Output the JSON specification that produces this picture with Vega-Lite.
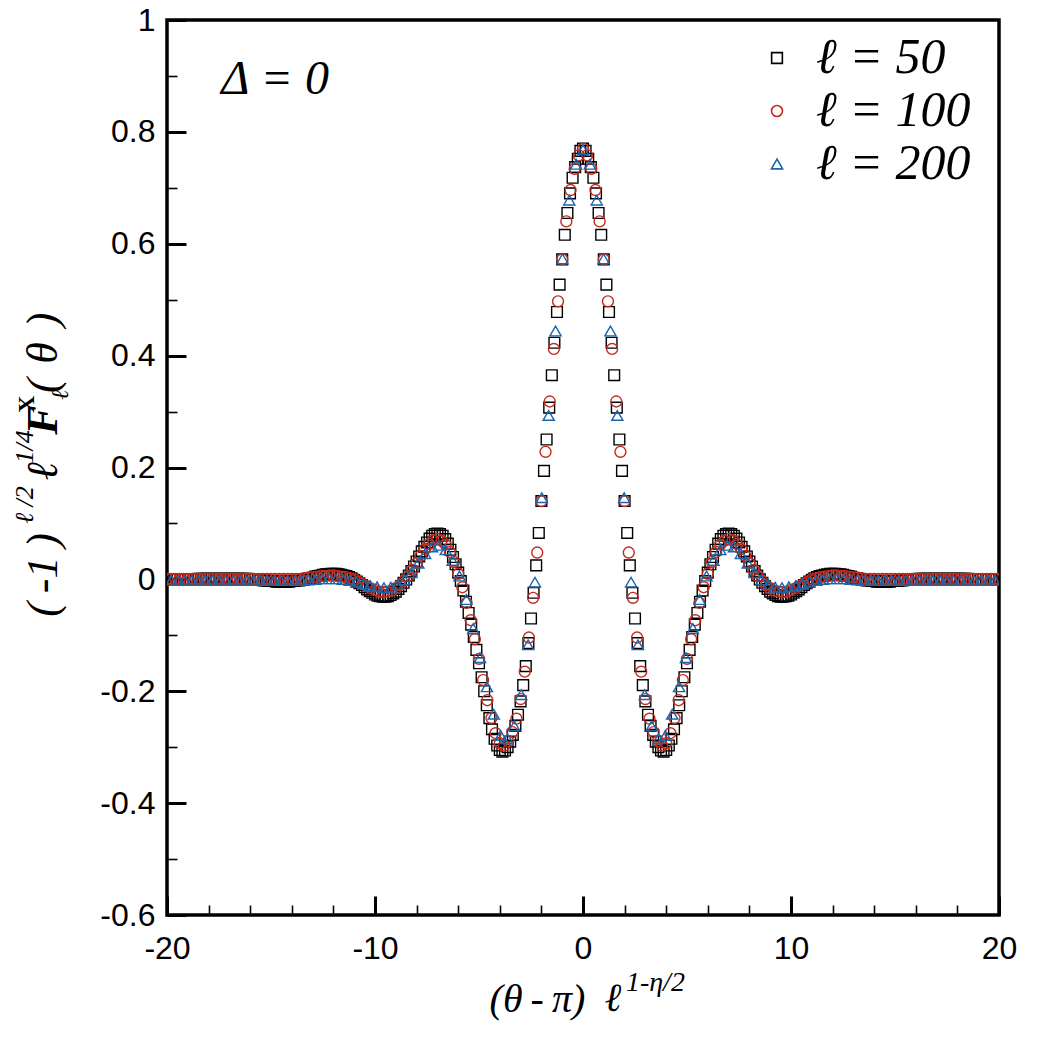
{
  "$schema": "https://vega.github.io/schema/vega-lite/v6.json",
  "width": 832,
  "height": 895,
  "autosize": {"type": "none"},
  "padding": {"left": 167, "top": 20, "right": 43, "bottom": 127},
  "background": "white",
  "config": {
    "view": {"stroke": "black", "strokeWidth": 3.5},
    "axis": {"domain": false, "grid": false, "labelColor": "black", "tickColor": "black", "labelFont": "Liberation Sans", "labelFontSize": 32, "labelOverlap": false, "labelFlush": false}
  },
  "data": {"values": [
{"l":"50","x":-20,"y":0},{"l":"50","x":-19.875,"y":0},{"l":"50","x":-19.75,"y":0},{"l":"50","x":-19.625,"y":0},{"l":"50","x":-19.5,"y":0},{"l":"50","x":-19.375,"y":0},{"l":"50","x":-19.25,"y":0},{"l":"50","x":-19.125,"y":0},{"l":"50","x":-19,"y":0},{"l":"50","x":-18.875,"y":0},{"l":"50","x":-18.75,"y":0},{"l":"50","x":-18.625,"y":0},
{"l":"50","x":-18.5,"y":0.001},{"l":"50","x":-18.375,"y":0.001},{"l":"50","x":-18.25,"y":0.001},{"l":"50","x":-18.125,"y":0.001},{"l":"50","x":-18,"y":0.001},{"l":"50","x":-17.875,"y":0.001},{"l":"50","x":-17.75,"y":0.001},{"l":"50","x":-17.625,"y":0.001},{"l":"50","x":-17.5,"y":0.001},{"l":"50","x":-17.375,"y":0.001},{"l":"50","x":-17.25,"y":0.001},{"l":"50","x":-17.125,"y":0.001},{"l":"50","x":-17,"y":0.001},{"l":"50","x":-16.875,"y":0.001},{"l":"50","x":-16.75,"y":0.001},{"l":"50","x":-16.625,"y":0.001},{"l":"50","x":-16.5,"y":0.001},{"l":"50","x":-16.375,"y":0.001},{"l":"50","x":-16.25,"y":0.001},{"l":"50","x":-16.125,"y":0.001},
{"l":"50","x":-16,"y":0},{"l":"50","x":-15.875,"y":0},{"l":"50","x":-15.75,"y":0},{"l":"50","x":-15.625,"y":-0.001},{"l":"50","x":-15.5,"y":-0.001},{"l":"50","x":-15.375,"y":-0.002},{"l":"50","x":-15.25,"y":-0.002},{"l":"50","x":-15.125,"y":-0.003},{"l":"50","x":-15,"y":-0.003},{"l":"50","x":-14.875,"y":-0.003},{"l":"50","x":-14.75,"y":-0.004},{"l":"50","x":-14.625,"y":-0.004},{"l":"50","x":-14.5,"y":-0.004},{"l":"50","x":-14.375,"y":-0.004},{"l":"50","x":-14.25,"y":-0.004},{"l":"50","x":-14.125,"y":-0.004},{"l":"50","x":-14,"y":-0.003},{"l":"50","x":-13.875,"y":-0.003},{"l":"50","x":-13.75,"y":-0.002},{"l":"50","x":-13.625,"y":-0.002},{"l":"50","x":-13.5,"y":-0.001},{"l":"50","x":-13.375,"y":0},{"l":"50","x":-13.25,"y":0.001},{"l":"50","x":-13.125,"y":0.002},{"l":"50","x":-13,"y":0.003},{"l":"50","x":-12.875,"y":0.005},{"l":"50","x":-12.75,"y":0.006},{"l":"50","x":-12.625,"y":0.007},{"l":"50","x":-12.5,"y":0.008},{"l":"50","x":-12.375,"y":0.009},{"l":"50","x":-12.25,"y":0.009},{"l":"50","x":-12.125,"y":0.01},{"l":"50","x":-12,"y":0.01},{"l":"50","x":-11.875,"y":0.01},{"l":"50","x":-11.75,"y":0.009},{"l":"50","x":-11.625,"y":0.008},{"l":"50","x":-11.5,"y":0.007},{"l":"50","x":-11.375,"y":0.006},{"l":"50","x":-11.25,"y":0.004},{"l":"50","x":-11.125,"y":0.002},{"l":"50","x":-11,"y":-0.001},{"l":"50","x":-10.875,"y":-0.004},{"l":"50","x":-10.75,"y":-0.007},{"l":"50","x":-10.625,"y":-0.01},{"l":"50","x":-10.5,"y":-0.014},{"l":"50","x":-10.375,"y":-0.018},{"l":"50","x":-10.25,"y":-0.021},{"l":"50","x":-10.125,"y":-0.024},{"l":"50","x":-10,"y":-0.027},{"l":"50","x":-9.875,"y":-0.029},{"l":"50","x":-9.75,"y":-0.03},{"l":"50","x":-9.625,"y":-0.031},{"l":"50","x":-9.5,"y":-0.031},{"l":"50","x":-9.375,"y":-0.03},{"l":"50","x":-9.25,"y":-0.028},{"l":"50","x":-9.125,"y":-0.025},{"l":"50","x":-9,"y":-0.022},{"l":"50","x":-8.875,"y":-0.017},{"l":"50","x":-8.75,"y":-0.012},{"l":"50","x":-8.625,"y":-0.006},{"l":"50","x":-8.5,"y":0},{"l":"50","x":-8.375,"y":0.007},{"l":"50","x":-8.25,"y":0.015},{"l":"50","x":-8.125,"y":0.023},{"l":"50","x":-8,"y":0.032},{"l":"50","x":-7.875,"y":0.041},{"l":"50","x":-7.75,"y":0.05},{"l":"50","x":-7.625,"y":0.058},{"l":"50","x":-7.5,"y":0.066},{"l":"50","x":-7.375,"y":0.073},{"l":"50","x":-7.25,"y":0.078},{"l":"50","x":-7.125,"y":0.081},{"l":"50","x":-7,"y":0.082},{"l":"50","x":-6.875,"y":0.081},{"l":"50","x":-6.75,"y":0.078},{"l":"50","x":-6.625,"y":0.072},{"l":"50","x":-6.5,"y":0.064},{"l":"50","x":-6.375,"y":0.053},{"l":"50","x":-6.25,"y":0.04},{"l":"50","x":-6.125,"y":0.027},{"l":"50","x":-6,"y":0.012},{"l":"50","x":-5.875,"y":-0.003},{"l":"50","x":-5.75,"y":-0.02},{"l":"50","x":-5.625,"y":-0.04},{"l":"50","x":-5.5,"y":-0.06},{"l":"50","x":-5.375,"y":-0.081},{"l":"50","x":-5.25,"y":-0.103},{"l":"50","x":-5.125,"y":-0.126},{"l":"50","x":-5,"y":-0.15},{"l":"50","x":-4.875,"y":-0.175},{"l":"50","x":-4.75,"y":-0.2},{"l":"50","x":-4.625,"y":-0.225},{"l":"50","x":-4.5,"y":-0.248},{"l":"50","x":-4.375,"y":-0.268},{"l":"50","x":-4.25,"y":-0.285},{"l":"50","x":-4.125,"y":-0.297},{"l":"50","x":-4,"y":-0.305},{"l":"50","x":-3.875,"y":-0.308},{"l":"50","x":-3.75,"y":-0.306},{"l":"50","x":-3.625,"y":-0.3},{"l":"50","x":-3.5,"y":-0.29},{"l":"50","x":-3.375,"y":-0.278},{"l":"50","x":-3.25,"y":-0.262},{"l":"50","x":-3.125,"y":-0.242},{"l":"50","x":-3,"y":-0.218},{"l":"50","x":-2.875,"y":-0.189},{"l":"50","x":-2.75,"y":-0.155},{"l":"50","x":-2.625,"y":-0.114},{"l":"50","x":-2.5,"y":-0.07},{"l":"50","x":-2.375,"y":-0.024},{"l":"50","x":-2.25,"y":0.025},{"l":"50","x":-2.125,"y":0.083},{"l":"50","x":-2,"y":0.14},{"l":"50","x":-1.875,"y":0.194},{"l":"50","x":-1.75,"y":0.25},{"l":"50","x":-1.625,"y":0.307},{"l":"50","x":-1.5,"y":0.365},{"l":"50","x":-1.375,"y":0.423},{"l":"50","x":-1.25,"y":0.478},{"l":"50","x":-1.125,"y":0.527},{"l":"50","x":-1,"y":0.572},{"l":"50","x":-0.875,"y":0.616},{"l":"50","x":-0.75,"y":0.655},{"l":"50","x":-0.625,"y":0.69},{"l":"50","x":-0.5,"y":0.718},{"l":"50","x":-0.375,"y":0.737},{"l":"50","x":-0.25,"y":0.752},{"l":"50","x":-0.125,"y":0.766},
{"l":"50","x":0,"y":0.77},
{"l":"50","x":0.125,"y":0.766},{"l":"50","x":0.25,"y":0.752},{"l":"50","x":0.375,"y":0.737},{"l":"50","x":0.5,"y":0.718},{"l":"50","x":0.625,"y":0.69},{"l":"50","x":0.75,"y":0.655},{"l":"50","x":0.875,"y":0.616},{"l":"50","x":1,"y":0.572},{"l":"50","x":1.125,"y":0.527},{"l":"50","x":1.25,"y":0.478},{"l":"50","x":1.375,"y":0.423},{"l":"50","x":1.5,"y":0.365},{"l":"50","x":1.625,"y":0.307},{"l":"50","x":1.75,"y":0.25},{"l":"50","x":1.875,"y":0.194},{"l":"50","x":2,"y":0.14},{"l":"50","x":2.125,"y":0.083},{"l":"50","x":2.25,"y":0.025},{"l":"50","x":2.375,"y":-0.024},{"l":"50","x":2.5,"y":-0.07},{"l":"50","x":2.625,"y":-0.114},{"l":"50","x":2.75,"y":-0.155},{"l":"50","x":2.875,"y":-0.189},{"l":"50","x":3,"y":-0.218},{"l":"50","x":3.125,"y":-0.242},{"l":"50","x":3.25,"y":-0.262},{"l":"50","x":3.375,"y":-0.278},{"l":"50","x":3.5,"y":-0.29},{"l":"50","x":3.625,"y":-0.3},{"l":"50","x":3.75,"y":-0.306},{"l":"50","x":3.875,"y":-0.308},{"l":"50","x":4,"y":-0.305},{"l":"50","x":4.125,"y":-0.297},{"l":"50","x":4.25,"y":-0.285},{"l":"50","x":4.375,"y":-0.268},{"l":"50","x":4.5,"y":-0.248},{"l":"50","x":4.625,"y":-0.225},{"l":"50","x":4.75,"y":-0.2},{"l":"50","x":4.875,"y":-0.175},{"l":"50","x":5,"y":-0.15},{"l":"50","x":5.125,"y":-0.126},{"l":"50","x":5.25,"y":-0.103},{"l":"50","x":5.375,"y":-0.081},{"l":"50","x":5.5,"y":-0.06},{"l":"50","x":5.625,"y":-0.04},{"l":"50","x":5.75,"y":-0.02},{"l":"50","x":5.875,"y":-0.003},{"l":"50","x":6,"y":0.012},{"l":"50","x":6.125,"y":0.027},{"l":"50","x":6.25,"y":0.04},{"l":"50","x":6.375,"y":0.053},{"l":"50","x":6.5,"y":0.064},{"l":"50","x":6.625,"y":0.072},{"l":"50","x":6.75,"y":0.078},{"l":"50","x":6.875,"y":0.081},{"l":"50","x":7,"y":0.082},{"l":"50","x":7.125,"y":0.081},{"l":"50","x":7.25,"y":0.078},{"l":"50","x":7.375,"y":0.073},{"l":"50","x":7.5,"y":0.066},{"l":"50","x":7.625,"y":0.058},{"l":"50","x":7.75,"y":0.05},{"l":"50","x":7.875,"y":0.041},{"l":"50","x":8,"y":0.032},{"l":"50","x":8.125,"y":0.023},{"l":"50","x":8.25,"y":0.015},{"l":"50","x":8.375,"y":0.007},{"l":"50","x":8.5,"y":0},{"l":"50","x":8.625,"y":-0.006},{"l":"50","x":8.75,"y":-0.012},{"l":"50","x":8.875,"y":-0.017},{"l":"50","x":9,"y":-0.022},{"l":"50","x":9.125,"y":-0.025},{"l":"50","x":9.25,"y":-0.028},{"l":"50","x":9.375,"y":-0.03},{"l":"50","x":9.5,"y":-0.031},{"l":"50","x":9.625,"y":-0.031},{"l":"50","x":9.75,"y":-0.03},{"l":"50","x":9.875,"y":-0.029},{"l":"50","x":10,"y":-0.027},{"l":"50","x":10.125,"y":-0.024},{"l":"50","x":10.25,"y":-0.021},{"l":"50","x":10.375,"y":-0.018},{"l":"50","x":10.5,"y":-0.014},{"l":"50","x":10.625,"y":-0.01},{"l":"50","x":10.75,"y":-0.007},{"l":"50","x":10.875,"y":-0.004},{"l":"50","x":11,"y":-0.001},{"l":"50","x":11.125,"y":0.002},{"l":"50","x":11.25,"y":0.004},{"l":"50","x":11.375,"y":0.006},{"l":"50","x":11.5,"y":0.007},{"l":"50","x":11.625,"y":0.008},{"l":"50","x":11.75,"y":0.009},{"l":"50","x":11.875,"y":0.01},{"l":"50","x":12,"y":0.01},{"l":"50","x":12.125,"y":0.01},{"l":"50","x":12.25,"y":0.009},{"l":"50","x":12.375,"y":0.009},{"l":"50","x":12.5,"y":0.008},{"l":"50","x":12.625,"y":0.007},{"l":"50","x":12.75,"y":0.006},{"l":"50","x":12.875,"y":0.005},{"l":"50","x":13,"y":0.003},{"l":"50","x":13.125,"y":0.002},{"l":"50","x":13.25,"y":0.001},{"l":"50","x":13.375,"y":0},{"l":"50","x":13.5,"y":-0.001},{"l":"50","x":13.625,"y":-0.002},{"l":"50","x":13.75,"y":-0.002},{"l":"50","x":13.875,"y":-0.003},{"l":"50","x":14,"y":-0.003},{"l":"50","x":14.125,"y":-0.004},{"l":"50","x":14.25,"y":-0.004},{"l":"50","x":14.375,"y":-0.004},{"l":"50","x":14.5,"y":-0.004},{"l":"50","x":14.625,"y":-0.004},{"l":"50","x":14.75,"y":-0.004},{"l":"50","x":14.875,"y":-0.003},{"l":"50","x":15,"y":-0.003},{"l":"50","x":15.125,"y":-0.003},{"l":"50","x":15.25,"y":-0.002},{"l":"50","x":15.375,"y":-0.002},{"l":"50","x":15.5,"y":-0.001},{"l":"50","x":15.625,"y":-0.001},{"l":"50","x":15.75,"y":0},{"l":"50","x":15.875,"y":0},{"l":"50","x":16,"y":0},
{"l":"50","x":16.125,"y":0.001},{"l":"50","x":16.25,"y":0.001},{"l":"50","x":16.375,"y":0.001},{"l":"50","x":16.5,"y":0.001},{"l":"50","x":16.625,"y":0.001},{"l":"50","x":16.75,"y":0.001},{"l":"50","x":16.875,"y":0.001},{"l":"50","x":17,"y":0.001},{"l":"50","x":17.125,"y":0.001},{"l":"50","x":17.25,"y":0.001},{"l":"50","x":17.375,"y":0.001},{"l":"50","x":17.5,"y":0.001},{"l":"50","x":17.625,"y":0.001},{"l":"50","x":17.75,"y":0.001},{"l":"50","x":17.875,"y":0.001},{"l":"50","x":18,"y":0.001},{"l":"50","x":18.125,"y":0.001},{"l":"50","x":18.25,"y":0.001},{"l":"50","x":18.375,"y":0.001},{"l":"50","x":18.5,"y":0.001},
{"l":"50","x":18.625,"y":0},{"l":"50","x":18.75,"y":0},{"l":"50","x":18.875,"y":0},{"l":"50","x":19,"y":0},{"l":"50","x":19.125,"y":0},{"l":"50","x":19.25,"y":0},{"l":"50","x":19.375,"y":0},{"l":"50","x":19.5,"y":0},{"l":"50","x":19.625,"y":0},{"l":"50","x":19.75,"y":0},{"l":"50","x":19.875,"y":0},{"l":"50","x":20,"y":0},

{"l":"100","x":-20,"y":0.001},{"l":"100","x":-19.8,"y":0.001},{"l":"100","x":-19.6,"y":0.001},{"l":"100","x":-19.4,"y":0.001},{"l":"100","x":-19.2,"y":0.001},{"l":"100","x":-19,"y":0.001},{"l":"100","x":-18.8,"y":0.001},{"l":"100","x":-18.6,"y":0.001},{"l":"100","x":-18.4,"y":0.001},{"l":"100","x":-18.2,"y":0.001},{"l":"100","x":-18,"y":0.001},{"l":"100","x":-17.8,"y":0.001},{"l":"100","x":-17.6,"y":0.001},{"l":"100","x":-17.4,"y":0.001},{"l":"100","x":-17.2,"y":0.001},{"l":"100","x":-17,"y":0.001},{"l":"100","x":-16.8,"y":0.001},{"l":"100","x":-16.6,"y":0.001},{"l":"100","x":-16.4,"y":0.001},{"l":"100","x":-16.2,"y":0.001},{"l":"100","x":-16,"y":0.001},{"l":"100","x":-15.8,"y":0.001},{"l":"100","x":-15.6,"y":0.001},{"l":"100","x":-15.4,"y":0.001},{"l":"100","x":-15.2,"y":0.001},{"l":"100","x":-15,"y":0.001},{"l":"100","x":-14.8,"y":0.001},{"l":"100","x":-14.6,"y":0.001},{"l":"100","x":-14.4,"y":0.001},{"l":"100","x":-14.2,"y":0.001},{"l":"100","x":-14,"y":0.001},
{"l":"100","x":-13.8,"y":0.001},{"l":"100","x":-13.6,"y":0.001},{"l":"100","x":-13.4,"y":0.002},{"l":"100","x":-13.2,"y":0.003},{"l":"100","x":-13,"y":0.004},{"l":"100","x":-12.8,"y":0.005},{"l":"100","x":-12.6,"y":0.006},{"l":"100","x":-12.4,"y":0.006},{"l":"100","x":-12.2,"y":0.007},{"l":"100","x":-12,"y":0.007},{"l":"100","x":-11.8,"y":0.006},{"l":"100","x":-11.6,"y":0.005},{"l":"100","x":-11.4,"y":0.004},{"l":"100","x":-11.2,"y":0.002},{"l":"100","x":-11,"y":0},{"l":"100","x":-10.8,"y":-0.004},{"l":"100","x":-10.6,"y":-0.008},{"l":"100","x":-10.4,"y":-0.012},{"l":"100","x":-10.2,"y":-0.016},{"l":"100","x":-10,"y":-0.019},{"l":"100","x":-9.8,"y":-0.022},{"l":"100","x":-9.6,"y":-0.023},{"l":"100","x":-9.4,"y":-0.022},{"l":"100","x":-9.2,"y":-0.02},{"l":"100","x":-9,"y":-0.016},{"l":"100","x":-8.8,"y":-0.01},{"l":"100","x":-8.6,"y":-0.003},{"l":"100","x":-8.4,"y":0.006},{"l":"100","x":-8.2,"y":0.017},{"l":"100","x":-8,"y":0.029},{"l":"100","x":-7.8,"y":0.042},{"l":"100","x":-7.6,"y":0.054},{"l":"100","x":-7.4,"y":0.063},{"l":"100","x":-7.2,"y":0.07},{"l":"100","x":-7,"y":0.072},{"l":"100","x":-6.8,"y":0.069},{"l":"100","x":-6.6,"y":0.062},{"l":"100","x":-6.4,"y":0.049},{"l":"100","x":-6.2,"y":0.031},{"l":"100","x":-6,"y":0.01},{"l":"100","x":-5.8,"y":-0.014},{"l":"100","x":-5.6,"y":-0.042},{"l":"100","x":-5.4,"y":-0.073},{"l":"100","x":-5.2,"y":-0.107},{"l":"100","x":-5,"y":-0.142},{"l":"100","x":-4.8,"y":-0.18},{"l":"100","x":-4.6,"y":-0.216},{"l":"100","x":-4.4,"y":-0.248},{"l":"100","x":-4.2,"y":-0.275},{"l":"100","x":-4,"y":-0.293},{"l":"100","x":-3.8,"y":-0.297},{"l":"100","x":-3.6,"y":-0.289},{"l":"100","x":-3.4,"y":-0.273},{"l":"100","x":-3.2,"y":-0.249},{"l":"100","x":-3,"y":-0.214},{"l":"100","x":-2.8,"y":-0.165},{"l":"100","x":-2.6,"y":-0.104},{"l":"100","x":-2.4,"y":-0.033},{"l":"100","x":-2.2,"y":0.048},{"l":"100","x":-2,"y":0.14},{"l":"100","x":-1.8,"y":0.228},{"l":"100","x":-1.6,"y":0.318},{"l":"100","x":-1.4,"y":0.412},{"l":"100","x":-1.2,"y":0.497},{"l":"100","x":-1,"y":0.572},{"l":"100","x":-0.8,"y":0.64},{"l":"100","x":-0.6,"y":0.696},{"l":"100","x":-0.4,"y":0.734},{"l":"100","x":-0.2,"y":0.758},
{"l":"100","x":0,"y":0.77},
{"l":"100","x":0.2,"y":0.758},{"l":"100","x":0.4,"y":0.734},{"l":"100","x":0.6,"y":0.696},{"l":"100","x":0.8,"y":0.64},{"l":"100","x":1,"y":0.572},{"l":"100","x":1.2,"y":0.497},{"l":"100","x":1.4,"y":0.412},{"l":"100","x":1.6,"y":0.318},{"l":"100","x":1.8,"y":0.228},{"l":"100","x":2,"y":0.14},{"l":"100","x":2.2,"y":0.048},{"l":"100","x":2.4,"y":-0.033},{"l":"100","x":2.6,"y":-0.104},{"l":"100","x":2.8,"y":-0.165},{"l":"100","x":3,"y":-0.214},{"l":"100","x":3.2,"y":-0.249},{"l":"100","x":3.4,"y":-0.273},{"l":"100","x":3.6,"y":-0.289},{"l":"100","x":3.8,"y":-0.297},{"l":"100","x":4,"y":-0.293},{"l":"100","x":4.2,"y":-0.275},{"l":"100","x":4.4,"y":-0.248},{"l":"100","x":4.6,"y":-0.216},{"l":"100","x":4.8,"y":-0.18},{"l":"100","x":5,"y":-0.142},{"l":"100","x":5.2,"y":-0.107},{"l":"100","x":5.4,"y":-0.073},{"l":"100","x":5.6,"y":-0.042},{"l":"100","x":5.8,"y":-0.014},{"l":"100","x":6,"y":0.01},{"l":"100","x":6.2,"y":0.031},{"l":"100","x":6.4,"y":0.049},{"l":"100","x":6.6,"y":0.062},{"l":"100","x":6.8,"y":0.069},{"l":"100","x":7,"y":0.072},{"l":"100","x":7.2,"y":0.07},{"l":"100","x":7.4,"y":0.063},{"l":"100","x":7.6,"y":0.054},{"l":"100","x":7.8,"y":0.042},{"l":"100","x":8,"y":0.029},{"l":"100","x":8.2,"y":0.017},{"l":"100","x":8.4,"y":0.006},{"l":"100","x":8.6,"y":-0.003},{"l":"100","x":8.8,"y":-0.01},{"l":"100","x":9,"y":-0.016},{"l":"100","x":9.2,"y":-0.02},{"l":"100","x":9.4,"y":-0.022},{"l":"100","x":9.6,"y":-0.023},{"l":"100","x":9.8,"y":-0.022},{"l":"100","x":10,"y":-0.019},{"l":"100","x":10.2,"y":-0.016},{"l":"100","x":10.4,"y":-0.012},{"l":"100","x":10.6,"y":-0.008},{"l":"100","x":10.8,"y":-0.004},{"l":"100","x":11,"y":0},{"l":"100","x":11.2,"y":0.002},{"l":"100","x":11.4,"y":0.004},{"l":"100","x":11.6,"y":0.005},{"l":"100","x":11.8,"y":0.006},{"l":"100","x":12,"y":0.007},{"l":"100","x":12.2,"y":0.007},{"l":"100","x":12.4,"y":0.006},{"l":"100","x":12.6,"y":0.006},{"l":"100","x":12.8,"y":0.005},{"l":"100","x":13,"y":0.004},{"l":"100","x":13.2,"y":0.003},{"l":"100","x":13.4,"y":0.002},{"l":"100","x":13.6,"y":0.001},{"l":"100","x":13.8,"y":0.001},
{"l":"100","x":14,"y":0.001},{"l":"100","x":14.2,"y":0.001},{"l":"100","x":14.4,"y":0.001},{"l":"100","x":14.6,"y":0.001},{"l":"100","x":14.8,"y":0.001},{"l":"100","x":15,"y":0.001},{"l":"100","x":15.2,"y":0.001},{"l":"100","x":15.4,"y":0.001},{"l":"100","x":15.6,"y":0.001},{"l":"100","x":15.8,"y":0.001},{"l":"100","x":16,"y":0.001},{"l":"100","x":16.2,"y":0.001},{"l":"100","x":16.4,"y":0.001},{"l":"100","x":16.6,"y":0.001},{"l":"100","x":16.8,"y":0.001},{"l":"100","x":17,"y":0.001},{"l":"100","x":17.2,"y":0.001},{"l":"100","x":17.4,"y":0.001},{"l":"100","x":17.6,"y":0.001},{"l":"100","x":17.8,"y":0.001},{"l":"100","x":18,"y":0.001},{"l":"100","x":18.2,"y":0.001},{"l":"100","x":18.4,"y":0.001},{"l":"100","x":18.6,"y":0.001},{"l":"100","x":18.8,"y":0.001},{"l":"100","x":19,"y":0.001},{"l":"100","x":19.2,"y":0.001},{"l":"100","x":19.4,"y":0.001},{"l":"100","x":19.6,"y":0.001},{"l":"100","x":19.8,"y":0.001},{"l":"100","x":20,"y":0.001},

{"l":"200","x":-19.8,"y":-0.002},{"l":"200","x":-19.47,"y":-0.002},{"l":"200","x":-19.14,"y":-0.002},{"l":"200","x":-18.81,"y":-0.002},{"l":"200","x":-18.48,"y":-0.002},{"l":"200","x":-18.15,"y":-0.002},{"l":"200","x":-17.82,"y":-0.002},{"l":"200","x":-17.49,"y":-0.002},{"l":"200","x":-17.16,"y":-0.002},{"l":"200","x":-16.83,"y":-0.002},{"l":"200","x":-16.5,"y":-0.002},{"l":"200","x":-16.17,"y":-0.002},{"l":"200","x":-15.84,"y":-0.002},{"l":"200","x":-15.51,"y":-0.002},{"l":"200","x":-15.18,"y":-0.002},{"l":"200","x":-14.85,"y":-0.002},{"l":"200","x":-14.52,"y":-0.002},{"l":"200","x":-14.19,"y":-0.002},{"l":"200","x":-13.86,"y":-0.002},{"l":"200","x":-13.53,"y":-0.002},
{"l":"200","x":-13.2,"y":-0.001},{"l":"200","x":-12.87,"y":0},{"l":"200","x":-12.54,"y":0.001},{"l":"200","x":-12.21,"y":0.001},{"l":"200","x":-11.88,"y":0.001},{"l":"200","x":-11.55,"y":0},{"l":"200","x":-11.22,"y":-0.002},{"l":"200","x":-10.89,"y":-0.005},{"l":"200","x":-10.56,"y":-0.008},{"l":"200","x":-10.23,"y":-0.011},{"l":"200","x":-9.9,"y":-0.013},{"l":"200","x":-9.57,"y":-0.015},{"l":"200","x":-9.24,"y":-0.014},{"l":"200","x":-8.91,"y":-0.009},{"l":"200","x":-8.58,"y":-0.001},{"l":"200","x":-8.25,"y":0.012},{"l":"200","x":-7.92,"y":0.029},{"l":"200","x":-7.59,"y":0.046},{"l":"200","x":-7.26,"y":0.058},{"l":"200","x":-6.93,"y":0.061},{"l":"200","x":-6.6,"y":0.053},{"l":"200","x":-6.27,"y":0.034},{"l":"200","x":-5.94,"y":0.006},{"l":"200","x":-5.61,"y":-0.036},{"l":"200","x":-5.28,"y":-0.088},{"l":"200","x":-4.95,"y":-0.14},{"l":"200","x":-4.62,"y":-0.192},{"l":"200","x":-4.29,"y":-0.241},{"l":"200","x":-3.96,"y":-0.279},{"l":"200","x":-3.63,"y":-0.285},{"l":"200","x":-3.3,"y":-0.262},{"l":"200","x":-2.97,"y":-0.206},{"l":"200","x":-2.64,"y":-0.117},{"l":"200","x":-2.31,"y":-0.005},{"l":"200","x":-1.98,"y":0.146},{"l":"200","x":-1.65,"y":0.293},{"l":"200","x":-1.32,"y":0.444},{"l":"200","x":-0.99,"y":0.573},{"l":"200","x":-0.66,"y":0.678},{"l":"200","x":-0.33,"y":0.742},
{"l":"200","x":0,"y":0.768},
{"l":"200","x":0.33,"y":0.742},{"l":"200","x":0.66,"y":0.678},{"l":"200","x":0.99,"y":0.573},{"l":"200","x":1.32,"y":0.444},{"l":"200","x":1.65,"y":0.293},{"l":"200","x":1.98,"y":0.146},{"l":"200","x":2.31,"y":-0.005},{"l":"200","x":2.64,"y":-0.117},{"l":"200","x":2.97,"y":-0.206},{"l":"200","x":3.3,"y":-0.262},{"l":"200","x":3.63,"y":-0.285},{"l":"200","x":3.96,"y":-0.279},{"l":"200","x":4.29,"y":-0.241},{"l":"200","x":4.62,"y":-0.192},{"l":"200","x":4.95,"y":-0.14},{"l":"200","x":5.28,"y":-0.088},{"l":"200","x":5.61,"y":-0.036},{"l":"200","x":5.94,"y":0.006},{"l":"200","x":6.27,"y":0.034},{"l":"200","x":6.6,"y":0.053},{"l":"200","x":6.93,"y":0.061},{"l":"200","x":7.26,"y":0.058},{"l":"200","x":7.59,"y":0.046},{"l":"200","x":7.92,"y":0.029},{"l":"200","x":8.25,"y":0.012},{"l":"200","x":8.58,"y":-0.001},{"l":"200","x":8.91,"y":-0.009},{"l":"200","x":9.24,"y":-0.014},{"l":"200","x":9.57,"y":-0.015},{"l":"200","x":9.9,"y":-0.013},{"l":"200","x":10.23,"y":-0.011},{"l":"200","x":10.56,"y":-0.008},{"l":"200","x":10.89,"y":-0.005},{"l":"200","x":11.22,"y":-0.002},{"l":"200","x":11.55,"y":0},{"l":"200","x":11.88,"y":0.001},{"l":"200","x":12.21,"y":0.001},{"l":"200","x":12.54,"y":0.001},{"l":"200","x":12.87,"y":0},{"l":"200","x":13.2,"y":-0.001},
{"l":"200","x":13.53,"y":-0.002},{"l":"200","x":13.86,"y":-0.002},{"l":"200","x":14.19,"y":-0.002},{"l":"200","x":14.52,"y":-0.002},{"l":"200","x":14.85,"y":-0.002},{"l":"200","x":15.18,"y":-0.002},{"l":"200","x":15.51,"y":-0.002},{"l":"200","x":15.84,"y":-0.002},{"l":"200","x":16.17,"y":-0.002},{"l":"200","x":16.5,"y":-0.002},{"l":"200","x":16.83,"y":-0.002},{"l":"200","x":17.16,"y":-0.002},{"l":"200","x":17.49,"y":-0.002},{"l":"200","x":17.82,"y":-0.002},{"l":"200","x":18.15,"y":-0.002},{"l":"200","x":18.48,"y":-0.002},{"l":"200","x":18.81,"y":-0.002},{"l":"200","x":19.14,"y":-0.002},{"l":"200","x":19.47,"y":-0.002},{"l":"200","x":19.8,"y":-0.002}
  ]},
  "layer": [
    {
      "mark": {"type": "point", "filled": false, "strokeWidth": 1.4, "opacity": 1, "clip": true},
      "encoding": {
        "x": {
          "field": "x", "type": "quantitative",
          "scale": {"domain": [-20, 20], "nice": false, "zero": false},
          "axis": {
            "title": null,
            "values": [-20,-18,-16,-14,-12,-10,-8,-6,-4,-2,0,2,4,6,8,10,12,14,16,18,20],
            "labelExpr": "datum.value % 10 === 0 ? '' + datum.value : ''",
            "labelPadding": 37,
            "tickSize": {"condition": {"test": "datum.value % 10 === 0", "value": -19}, "value": -10},
            "tickWidth": {"condition": {"test": "datum.value % 10 === 0", "value": 3}, "value": 1.6}
          }
        },
        "y": {
          "field": "y", "type": "quantitative",
          "scale": {"domain": [-0.6, 1], "nice": false, "zero": false},
          "axis": {
            "title": null,
            "values": [-0.6,-0.55,-0.5,-0.45,-0.4,-0.35,-0.3,-0.25,-0.2,-0.15,-0.1,-0.05,0,0.05,0.1,0.15,0.2,0.25,0.3,0.35,0.4,0.45,0.5,0.55,0.6,0.65,0.7,0.75,0.8,0.85,0.9,0.95,1],
            "labelExpr": "abs(datum.value*5 - round(datum.value*5)) < 0.001 ? '' + round(datum.value*10)/10 : ''",
            "labelPadding": 31,
            "tickSize": {"condition": {"test": "abs(datum.value*5 - round(datum.value*5)) < 0.001", "value": -19}, "value": -10},
            "tickWidth": {"condition": {"test": "abs(datum.value*5 - round(datum.value*5)) < 0.001", "value": 3}, "value": 1.6}
          }
        },
        "size": {
          "field": "l", "type": "ordinal",
          "scale": {"domain": ["50", "100", "200"], "range": [115, 125, 150]},
          "legend": null
        },
        "color": {
          "field": "l", "type": "nominal",
          "scale": {"domain": ["50", "100", "200"], "range": ["#000000", "#c42a1e", "#1b65ad"]},
          "legend": {"orient": "none", "legendX": 585, "legendY": 13, "title": null, "padding": 0, "labelFont": "Liberation Serif", "labelFontStyle": "italic", "labelFontSize": 50, "labelColor": "black", "labelExpr": "'ℓ = ' + datum.label", "symbolSize": 70, "symbolStrokeWidth": 1.6, "symbolFillColor": "white", "rowPadding": 3, "labelOffset": 14}
        },
        "shape": {
          "field": "l", "type": "nominal",
          "scale": {"domain": ["50", "100", "200"], "range": ["square", "circle", "triangle-up"]},
          "legend": {"orient": "none", "legendX": 585, "legendY": 13, "title": null, "padding": 0, "labelFont": "Liberation Serif", "labelFontStyle": "italic", "labelFontSize": 50, "labelColor": "black", "labelExpr": "'ℓ = ' + datum.label", "symbolSize": 70, "symbolStrokeWidth": 1.6, "symbolFillColor": "white", "rowPadding": 3, "labelOffset": 14}
        }
      }
    },
    {
      "data": {"values": [{}]},
      "mark": {"type": "text", "font": "Liberation Serif", "fontStyle": "italic", "fontSize": 48, "align": "center", "baseline": "middle", "color": "black"},
      "encoding": {"x": {"datum": -14.8, "type": "quantitative"}, "y": {"datum": 0.893, "type": "quantitative"}, "text": {"value": "Δ = 0"}}
    },
    {
      "data": {"values": [{}]},
      "mark": {"type": "text", "font": "Liberation Serif", "fontStyle": "italic", "fontSize": 40, "align": "center", "baseline": "middle", "color": "black"},
      "encoding": {"x": {"datum": -2.19, "type": "quantitative"}, "y": {"datum": -0.752, "type": "quantitative"}, "text": {"value": "(θ\u2009-\u2009π)"}}
    },
    {
      "data": {"values": [{}]},
      "mark": {"type": "text", "font": "Liberation Serif", "fontStyle": "italic", "fontSize": 40, "align": "center", "baseline": "middle", "color": "black"},
      "encoding": {"x": {"datum": 1.44, "type": "quantitative"}, "y": {"datum": -0.75, "type": "quantitative"}, "text": {"value": "ℓ"}}
    },
    {
      "data": {"values": [{}]},
      "mark": {"type": "text", "font": "Liberation Serif", "fontStyle": "italic", "fontSize": 28, "align": "center", "baseline": "middle", "color": "black"},
      "encoding": {"x": {"datum": 3.48, "type": "quantitative"}, "y": {"datum": -0.722, "type": "quantitative"}, "text": {"value": "1-η/2"}}
    },
    {
      "data": {"values": [{}]},
      "mark": {"type": "text", "font": "Liberation Serif", "fontStyle": "italic", "fontSize": 44, "align": "center", "baseline": "middle", "angle": 270, "color": "black"},
      "encoding": {"x": {"datum": -25.9, "type": "quantitative"}, "y": {"datum": 0.008, "type": "quantitative"}, "text": {"value": "(\u2009-1\u2009)"}}
    },
    {
      "data": {"values": [{}]},
      "mark": {"type": "text", "font": "Liberation Serif", "fontStyle": "italic", "fontSize": 26, "align": "center", "baseline": "middle", "angle": 270, "color": "black"},
      "encoding": {"x": {"datum": -26.85, "type": "quantitative"}, "y": {"datum": 0.133, "type": "quantitative"}, "text": {"value": "ℓ /2"}}
    },
    {
      "data": {"values": [{}]},
      "mark": {"type": "text", "font": "Liberation Serif", "fontStyle": "italic", "fontSize": 44, "align": "center", "baseline": "middle", "angle": 270, "color": "black"},
      "encoding": {"x": {"datum": -25.9, "type": "quantitative"}, "y": {"datum": 0.193, "type": "quantitative"}, "text": {"value": "ℓ"}}
    },
    {
      "data": {"values": [{}]},
      "mark": {"type": "text", "font": "Liberation Serif", "fontStyle": "italic", "fontSize": 26, "align": "center", "baseline": "middle", "angle": 270, "color": "black"},
      "encoding": {"x": {"datum": -26.85, "type": "quantitative"}, "y": {"datum": 0.237, "type": "quantitative"}, "text": {"value": "1/4"}}
    },
    {
      "data": {"values": [{}]},
      "mark": {"type": "text", "font": "Liberation Serif", "fontStyle": "italic", "fontWeight": "bold", "fontSize": 44, "align": "center", "baseline": "middle", "angle": 270, "color": "black"},
      "encoding": {"x": {"datum": -25.9, "type": "quantitative"}, "y": {"datum": 0.285, "type": "quantitative"}, "text": {"value": "F"}}
    },
    {
      "data": {"values": [{}]},
      "mark": {"type": "text", "font": "Liberation Serif", "fontWeight": "bold", "fontSize": 24, "align": "center", "baseline": "middle", "angle": 270, "color": "black"},
      "encoding": {"x": {"datum": -26.75, "type": "quantitative"}, "y": {"datum": 0.313, "type": "quantitative"}, "text": {"value": "X"}}
    },
    {
      "data": {"values": [{}]},
      "mark": {"type": "text", "font": "Liberation Serif", "fontStyle": "italic", "fontSize": 24, "align": "center", "baseline": "middle", "angle": 270, "color": "black"},
      "encoding": {"x": {"datum": -25.1, "type": "quantitative"}, "y": {"datum": 0.33, "type": "quantitative"}, "text": {"value": "ℓ"}}
    },
    {
      "data": {"values": [{}]},
      "mark": {"type": "text", "font": "Liberation Serif", "fontStyle": "italic", "fontSize": 44, "align": "center", "baseline": "middle", "angle": 270, "color": "black"},
      "encoding": {"x": {"datum": -25.9, "type": "quantitative"}, "y": {"datum": 0.405, "type": "quantitative"}, "text": {"value": "(\u2004θ\u2004)"}}
    }
  ]
}
